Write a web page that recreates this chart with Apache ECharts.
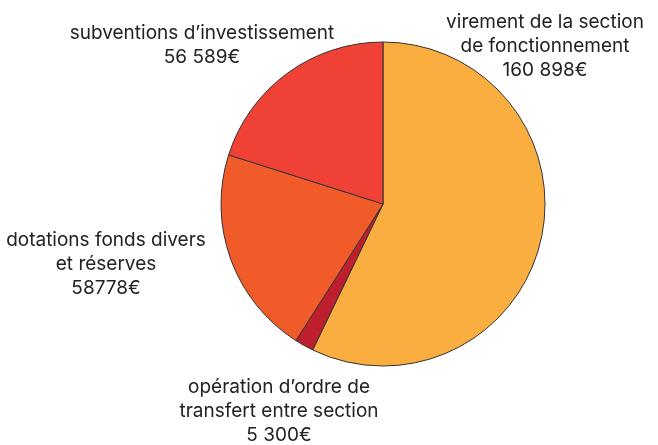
<!DOCTYPE html>
<html><head><meta charset="utf-8">
<script src="https://cdn.jsdelivr.net/npm/echarts@6/dist/echarts.min.js"></script>
<style>html,body{margin:0;padding:0;background:#fff}#c{width:658px;height:445px}</style>
</head><body><div id="c"></div>
<script>
const categories = ["virement de la section\nde fonctionnement", "opération d’ordre de\ntransfert entre section", "dotations fonds divers\net réserves", "subventions d’investissement"];
const values = [160898, 5300, 58778, 56589];
const valueLabels = ["160 898€", "5 300€", "58778€", "56 589€"];
const colors = ["#FBAE40", "#BE1E2D", "#F15A29", "#EF4136"];
const labelPos = [[545, 46], [279, 411], [106, 264], [202, 45]];

const chart = echarts.init(document.getElementById('c'));
chart.setOption({
  animation: false,
  series: [{
    type: 'pie',
    center: [383, 204],
    radius: 162,
    startAngle: 90,
    clockwise: true,
    data: categories.map((n, i) => ({name: n, value: values[i], itemStyle: {color: colors[i]}})),
    itemStyle: {borderColor: '#333', borderWidth: 1},
    label: {
      show: true,
      position: 'outside',
      formatter: p => p.name + '\n' + valueLabels[p.dataIndex],
      fontFamily: 'Inter',
      fontSize: 19,
      lineHeight: 24,
      color: '#222',
      align: 'center',
      overflow: 'none',
      width: 400
    },
    labelLine: {show: false},
    labelLayout: p => ({x: labelPos[p.dataIndex][0], y: labelPos[p.dataIndex][1], align: 'center', verticalAlign: 'middle'}),
    emphasis: {disabled: true}
  }]
});
</script></body></html>
